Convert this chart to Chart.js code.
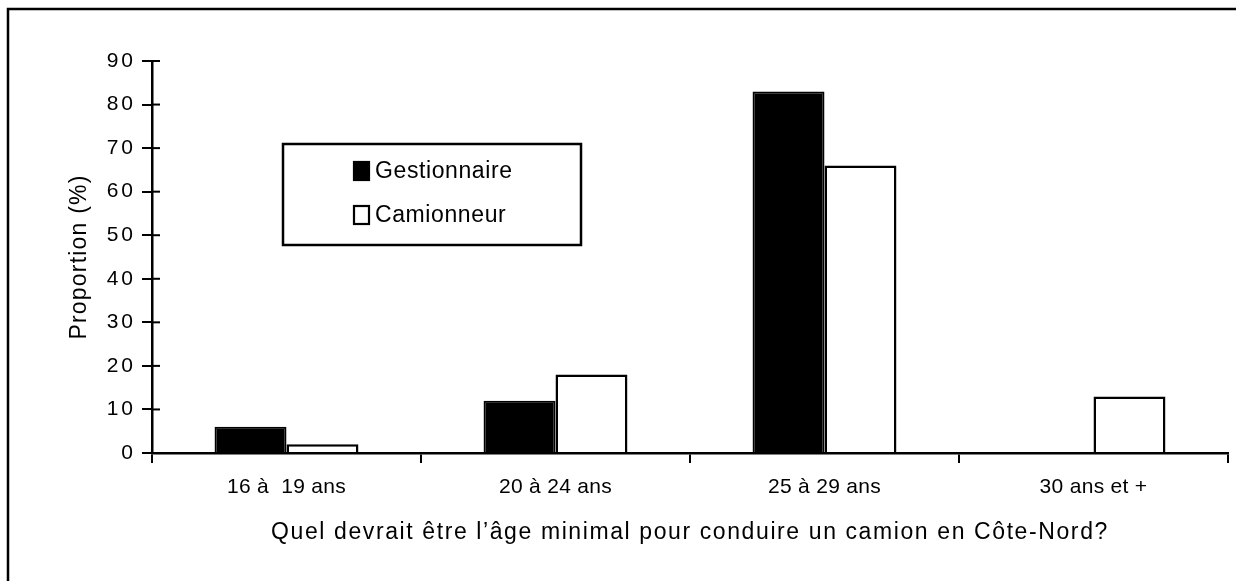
<!DOCTYPE html>
<html>
<head>
<meta charset="utf-8">
<script src="https://cdn.jsdelivr.net/npm/chart.js@4.4.1/dist/chart.umd.min.js"></script>
<style>
  html, body { margin: 0; padding: 0; background: #fff; }
  #wrap { width: 1236px; height: 581px; }
</style>
</head>
<body>
<div id="wrap"><canvas id="c" width="1236" height="581"></canvas></div>
<script>
// Age groups and the share (%) of each respondent group choosing them
const categories   = ['16 à  19 ans', '20 à 24 ans', '25 à 29 ans', '30 ans et +'];
const gestionnaire = [6, 12, 83, 0];
const camionneur   = [2, 18, 66, 13];
const seriesNames  = ['Gestionnaire', 'Camionneur'];
const yTitle = 'Proportion (%)';
const xTitle = 'Quel devrait être l’âge minimal pour conduire un camion en Côte-Nord?';

const FONT = '"Liberation Sans", Arial, sans-serif';

// Extra letter spacing (px) for the text of each axis
const axisSpacing = {
  x: { ticks: 0.3, title: 1.6 },
  y: { ticks: 3, title: 1.2 }
};

// White page with the outer frame (runs off the right and bottom edges)
const framePlugin = {
  id: 'frame',
  beforeDraw(chart) {
    const ctx = chart.ctx;
    ctx.save();
    ctx.fillStyle = '#fff';
    ctx.fillRect(0, 0, chart.width, chart.height);
    ctx.strokeStyle = '#000';
    ctx.lineWidth = 2.5;
    ctx.strokeRect(8, 9, chart.width + 40, chart.height + 40);
    ctx.restore();
  }
};

// Wraps each scale's label/title drawing with its own letter spacing
const spacingPlugin = {
  id: 'spacing',
  afterLayout(chart) {
    Object.entries(axisSpacing).forEach(([id, sp]) => {
      const s = chart.scales[id];
      if (!s || s._spaced) return;
      s._spaced = true;
      const wrap = (name, px) => {
        const orig = s[name].bind(s);
        s[name] = function (...args) {
          const ctx = this.ctx;
          const prev = ctx.letterSpacing;
          ctx.letterSpacing = px + 'px';
          orig(...args);
          ctx.letterSpacing = prev || '0px';
        };
      };
      wrap('drawLabels', sp.ticks);
      wrap('drawTitle', sp.title);
    });
  }
};

// Value-axis tick marks cross the axis: add the short inner part
const crossTicks = {
  id: 'crossTicks',
  afterDatasetsDraw(chart) {
    const y = chart.scales.y;
    const ctx = chart.ctx;
    ctx.save();
    ctx.strokeStyle = '#000';
    ctx.lineWidth = 2;
    y.ticks.forEach((t, i) => {
      const py = y.getPixelForTick(i);
      ctx.beginPath();
      ctx.moveTo(y.right, py);
      ctx.lineTo(y.right + 8, py);
      ctx.stroke();
    });
    ctx.restore();
  }
};

// Boxed legend sitting inside the plot area
const boxLegend = {
  id: 'boxLegend',
  afterDraw(chart) {
    const ctx = chart.ctx;
    const box = { x: 283, y: 144, w: 298, h: 101 };
    ctx.save();
    ctx.fillStyle = '#fff';
    ctx.fillRect(box.x, box.y, box.w, box.h);
    ctx.strokeStyle = '#000';
    ctx.lineWidth = 2.5;
    ctx.strokeRect(box.x, box.y, box.w, box.h);
    const rows = [171, 215];
    ctx.font = '23px ' + FONT;
    ctx.letterSpacing = '0.6px';
    ctx.textBaseline = 'middle';
    ctx.textAlign = 'left';
    chart.data.datasets.forEach((ds, i) => {
      const cy = rows[i];
      ctx.fillStyle = ds.backgroundColor;
      ctx.fillRect(353, cy - 10, 17, 20);
      ctx.strokeStyle = '#000';
      ctx.lineWidth = 2.2;
      ctx.strokeRect(354, cy - 9, 15, 18);
      ctx.fillStyle = '#000';
      ctx.fillText(ds.label, 375, cy + 1);
    });
    ctx.restore();
  }
};

new Chart(document.getElementById('c'), {
  type: 'bar',
  data: {
    labels: categories,
    datasets: [
      { label: seriesNames[0], data: gestionnaire, backgroundColor: '#000', borderColor: '#000', borderWidth: 2 },
      { label: seriesNames[1], data: camionneur, backgroundColor: '#fff', borderColor: '#000', borderWidth: 2.5 }
    ]
  },
  options: {
    responsive: false,
    animation: false,
    devicePixelRatio: 1,
    layout: { padding: { top: 61, right: 8, left: 0, bottom: 0 } },
    datasets: { bar: { categoryPercentage: 0.535, barPercentage: 1.0, borderSkipped: 'bottom' } },
    plugins: { legend: { display: false }, tooltip: { enabled: false } },
    scales: {
      x: {
        offset: true,
        grid: { offset: true, drawOnChartArea: false, drawTicks: true, tickLength: 10, color: '#000', lineWidth: 2 },
        border: { display: true, color: '#000', width: 2.5 },
        ticks: { color: '#000', font: { family: FONT, size: 21 }, padding: 12, maxRotation: 0 },
        title: { display: true, text: xTitle, color: '#000', font: { family: FONT, size: 23 }, padding: { top: 0, bottom: 35 } },
        afterFit(s) { s.height = 128; }
      },
      y: {
        min: 0, max: 90,
        grid: { drawOnChartArea: false, drawTicks: true, tickLength: 10, color: '#000', lineWidth: 2 },
        border: { display: true, color: '#000', width: 2.5 },
        ticks: { stepSize: 10, color: '#000', font: { family: FONT, size: 21 }, padding: 6 },
        title: { display: true, text: yTitle, color: '#000', font: { family: FONT, size: 23 }, padding: { top: 66, bottom: 0 } },
        afterFit(s) { s.width = 152; }
      }
    }
  },
  plugins: [framePlugin, spacingPlugin, crossTicks, boxLegend]
});
</script>
</body>
</html>
